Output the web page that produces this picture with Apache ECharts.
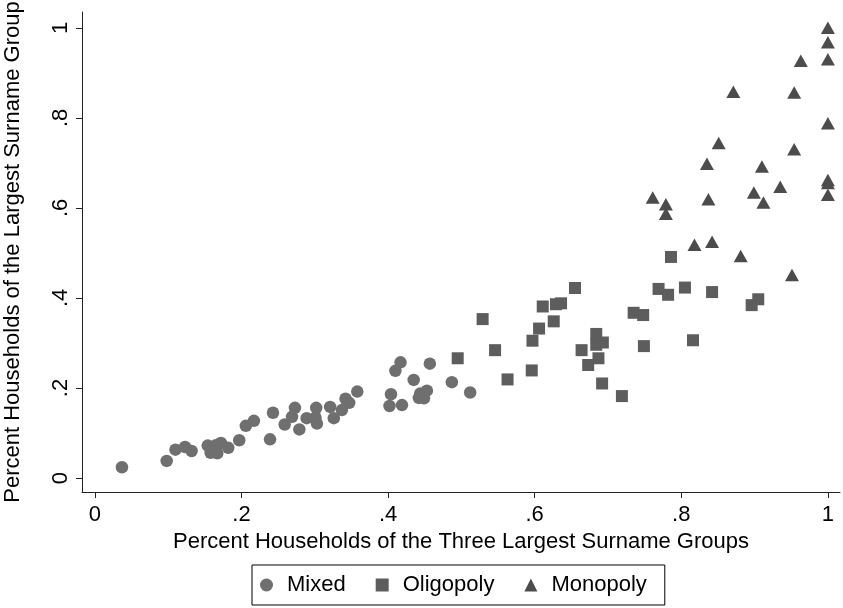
<!DOCTYPE html>
<html>
<head>
<meta charset="utf-8">
<script src="https://cdn.jsdelivr.net/npm/echarts@6/dist/echarts.min.js"></script>
<style>html,body{margin:0;padding:0;background:#fff;}#chart{width:843px;height:608px;}</style>
</head>
<body>
<div id="chart"></div>
<script>
var tickValues = [0, 0.2, 0.4, 0.6, 0.8, 1];
var seriesNames = ['Mixed', 'Oligopoly', 'Monopoly'];
var mixed = [
  [0.037,0.024],[0.098,0.038],[0.110,0.063],[0.123,0.069],[0.132,0.060],[0.154,0.072],
  [0.158,0.056],[0.165,0.073],[0.167,0.055],[0.172,0.078],[0.182,0.067],[0.197,0.084],
  [0.206,0.116],[0.217,0.127],[0.239,0.086],[0.243,0.145],[0.259,0.119],[0.273,0.156],
  [0.269,0.136],[0.279,0.108],[0.289,0.133],[0.302,0.156],[0.301,0.134],[0.303,0.121],
  [0.321,0.158],[0.326,0.133],[0.337,0.151],[0.342,0.176],[0.347,0.167],[0.358,0.192],
  [0.404,0.186],[0.402,0.160],[0.419,0.162],[0.410,0.238],[0.417,0.257],[0.435,0.218],
  [0.457,0.254],[0.444,0.188],[0.453,0.194],[0.449,0.177],[0.442,0.178],[0.487,0.213],
  [0.512,0.190]
];
var oligopoly = [
  [0.495,0.266],[0.529,0.353],[0.546,0.284],[0.563,0.219],[0.596,0.239],[0.597,0.305],
  [0.606,0.332],[0.611,0.381],[0.626,0.348],[0.629,0.386],[0.636,0.388],[0.655,0.422],
  [0.664,0.284],[0.673,0.251],[0.684,0.320],[0.684,0.296],[0.693,0.301],[0.687,0.266],
  [0.692,0.210],[0.719,0.182],[0.735,0.367],[0.748,0.362],[0.749,0.293],[0.769,0.420],
  [0.782,0.407],[0.786,0.491],[0.805,0.423],[0.816,0.306],[0.842,0.413],[0.896,0.384],
  [0.905,0.397]
];
var monopoly = [
  [1.000,1.000],[1.000,0.968],[1.000,0.930],[0.963,0.927],[0.871,0.858],[0.954,0.856],
  [1.000,0.788],[0.851,0.744],[0.954,0.730],[0.835,0.698],[0.910,0.692],[1.000,0.662],
  [1.000,0.655],[1.000,0.629],[0.935,0.647],[0.899,0.634],[0.912,0.612],[0.837,0.619],
  [0.761,0.623],[0.779,0.608],[0.779,0.587],[0.818,0.518],[0.842,0.525],[0.881,0.493],
  [0.951,0.451]
];
var xTitle = 'Percent Households of the Three Largest Surname Groups';
var yTitle = 'Percent Households of the Largest Surname Group';

function fmt(v) {
  if (Math.abs(v) < 1e-9) return '0';
  if (Math.abs(v - 1) < 1e-9) return '1';
  return v.toFixed(1).replace(/^0/, '');
}
var FONT = 'Liberation Sans';
var FS = 22;
var axisCommon = {
  type: 'value',
  splitLine: { show: false },
  axisLine: { show: true, onZero: false, lineStyle: { color: '#222', width: 1 } },
  axisTick: { show: true, inside: false, length: 6, customValues: tickValues, lineStyle: { color: '#222', width: 1 } },
  axisLabel: { customValues: tickValues, formatter: fmt, color: '#000', fontFamily: FONT, fontSize: FS },
  nameLocation: 'middle',
  nameTextStyle: { color: '#000', fontFamily: FONT, fontSize: FS }
};
var chart = echarts.init(document.getElementById('chart'), null, { renderer: 'canvas' });
chart.setOption({
  animation: false,
  backgroundColor: '#fff',
  grid: { left: 82, right: 3, top: 12, bottom: 116, containLabel: false, outerBoundsMode: 'none' },
  xAxis: echarts.util.merge({
    min: -0.0175, max: 1.0165,
    name: xTitle, nameGap: 37,
    axisLabel: { margin: 12 }
  }, axisCommon),
  yAxis: echarts.util.merge({
    min: -0.031, max: 1.035,
    name: yTitle, nameGap: 58,
    axisLabel: { rotate: 90, margin: 10 }
  }, axisCommon),
  legend: {
    data: seriesNames,
    left: 252, top: 565,
    orient: 'horizontal',
    borderColor: '#000', borderWidth: 1,
    padding: [9, 18, 9, 8],
    itemGap: 30, itemWidth: 13, itemHeight: 13,
    textStyle: { color: '#000', fontFamily: FONT, fontSize: FS, padding: [0, 0, 0, 9] }
  },
  series: [
    { name: seriesNames[0], type: 'scatter', data: mixed, symbol: 'circle', symbolSize: 12.5,
      itemStyle: { color: '#6f6f6f', opacity: 1 } },
    { name: seriesNames[1], type: 'scatter', data: oligopoly, symbol: 'rect', symbolSize: 12,
      itemStyle: { color: '#5d5d5d', opacity: 1 } },
    { name: seriesNames[2], type: 'scatter', data: monopoly, symbol: 'triangle', symbolSize: [14, 12.5],
      itemStyle: { color: '#4c4c4c', opacity: 1 } }
  ]
});
</script>
</body>
</html>
